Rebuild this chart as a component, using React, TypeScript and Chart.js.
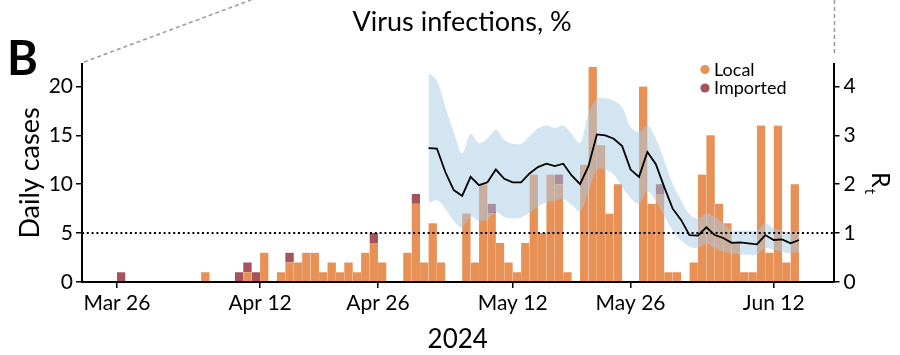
import React, { useEffect, useRef } from "react";
import { Chart, registerables } from "chart.js";

Chart.register(...registerables);

// Day 0 = Mar 26, 2024
const tickDays = [0, 17, 31, 47, 61, 78];
const tickLabels = ["Mar 26", "Apr 12", "Apr 26", "May 12", "May 26", "Jun 12"];
const leftTicks = [0, 5, 10, 15, 20];
const rightTicks = [0, 1, 2, 3, 4];

const localCases = [
  0, 0, 0, 0, 0, 0, 0, 0, 0, 0,
  1, 0, 0, 0, 0, 1, 0, 3, 0, 1,
  2, 2, 3, 3, 1, 2, 1, 2, 1, 3,
  4, 2, 0, 0, 3, 8, 2, 6, 2, 0,
  0, 7, 2, 10, 7, 4, 2, 1, 4, 11,
  5, 11, 10, 1, 0, 12, 22, 14, 7, 10,
  0, 0, 20, 8, 9, 1, 1, 0, 2, 11,
  15, 8, 6, 4, 1, 1, 16, 3, 16, 2, 10,
];
const importedCases = [
  1, 0, 0, 0, 0, 0, 0, 0, 0, 0,
  0, 0, 0, 0, 1, 1, 1, 0, 0, 0,
  1, 0, 0, 0, 0, 0, 0, 0, 0, 0,
  1, 0, 0, 0, 0, 1, 0, 0, 0, 0,
  0, 0, 0, 0, 1, 0, 0, 0, 0, 0,
  0, 0, 1, 0, 0, 0, 0, 0, 0, 0,
  0, 0, 0, 0, 1, 0, 0, 0, 0, 0,
  0, 0, 0, 0, 0, 0, 0, 0, 0, 0, 0,
];

const rtStartDay = 37;
const rtMean = [
  2.74, 2.73, 2.25, 1.88, 1.76, 2.15, 1.98, 2.04, 2.3, 2.11,
  2.04, 2.04, 2.22, 2.35, 2.42, 2.37, 2.42, 2.18, 2.0, 2.37,
  3.02, 3.0, 2.93, 2.78, 2.3, 2.15, 2.66, 2.41, 1.94, 1.5,
  1.27, 0.96, 0.95, 1.12, 0.96, 0.9, 0.8, 0.81, 0.79, 0.77,
  0.96, 0.86, 0.87, 0.79, 0.86,
];
const rtHigh = [
  4.27, 4.12, 3.58, 3.07, 2.63, 3.03, 2.84, 2.93, 3.12, 2.91,
  2.83, 2.83, 2.98, 3.14, 3.2, 3.15, 3.2, 3.03, 2.85, 3.45,
  3.75, 3.76, 3.71, 3.58, 3.17, 3.07, 3.2, 2.93, 2.49, 2.01,
  1.67, 1.38, 1.3, 1.4, 1.33, 1.2, 1.06, 1.05, 1.05, 1.06,
  1.2, 1.1, 1.06, 1.0, 1.06,
];
const rtLow = [
  1.62, 1.67, 1.5, 1.25, 1.12, 1.33, 1.25, 1.28, 1.43, 1.33,
  1.3, 1.32, 1.42, 1.54, 1.62, 1.66, 1.7, 1.58, 1.45, 1.85,
  2.3, 2.3, 2.2, 1.95, 1.72, 1.6, 1.85, 1.65, 1.35, 1.05,
  0.85, 0.72, 0.7, 0.79, 0.69, 0.62, 0.59, 0.56, 0.56, 0.56,
  0.69, 0.66, 0.62, 0.59, 0.62,
];

const X_MIN = -4.15;
const X_MAX = 85.1;
const Y_MAX = 22.3;
const Y1_MAX = Y_MAX / 5;

const LOCAL_COLOR = "#E79157";
const IMPORTED_COLOR = "#A5535C";
const BAND_COLOR = "rgba(170,203,230,0.5)";
const FONT = "Lato";

const decorPlugin = {
  id: "decor",
  afterDraw(chart: any) {
    const ctx = chart.ctx;
    const area = chart.chartArea;
    ctx.save();
    // dashed guide lines
    ctx.strokeStyle = "#9a9a9a";
    ctx.lineWidth = 1.5;
    ctx.setLineDash([4, 3]);
    ctx.beginPath();
    ctx.moveTo(area.left + 2, area.top - 2);
    ctx.lineTo(251, 0);
    ctx.stroke();
    ctx.beginPath();
    ctx.moveTo(area.right + 1, 0);
    ctx.lineTo(area.right + 1, area.top - 8);
    ctx.stroke();
    ctx.setLineDash([]);

    // title
    ctx.fillStyle = "#000";
    ctx.textAlign = "center";
    ctx.textBaseline = "middle";
    ctx.font = `27px ${FONT}`;
    ctx.fillText("Virus infections, %", 462, 22);

    // panel letter
    ctx.textAlign = "left";
    ctx.textBaseline = "alphabetic";
    ctx.font = `bold 47px ${FONT}`;
    ctx.fillText("B", 7, 75);

    // legend
    const items = [
      { label: "Local", color: LOCAL_COLOR, y: 69.5 },
      { label: "Imported", color: IMPORTED_COLOR, y: 88 },
    ];
    ctx.font = `18px ${FONT}`;
    ctx.textBaseline = "middle";
    for (const it of items) {
      ctx.fillStyle = it.color;
      ctx.beginPath();
      ctx.arc(705, it.y, 4.6, 0, Math.PI * 2);
      ctx.fill();
      ctx.fillStyle = "#000";
      ctx.fillText(it.label, 714, it.y + 0.5);
    }

    // right axis title R_t (rotated)
    ctx.translate(872, 172);
    ctx.rotate(Math.PI / 2);
    ctx.textBaseline = "alphabetic";
    ctx.font = `25px ${FONT}`;
    ctx.fillText("R", 0, 0);
    const w = ctx.measureText("R").width;
    ctx.font = `15px ${FONT}`;
    ctx.fillText("t", w + 1, 7);
    ctx.restore();
  },
};

export default function App() {
  const ref = useRef<HTMLCanvasElement | null>(null);

  useEffect(() => {
    if (!ref.current) return;
    Chart.defaults.font.family = FONT;
    Chart.defaults.color = "#000";

    const days = localCases.map((_, i) => i);
    const localData = days
      .filter((d) => localCases[d] > 0)
      .map((d) => ({ x: d + 0.5, y: localCases[d] }));
    const importedData = days
      .filter((d) => importedCases[d] > 0)
      .map((d) => ({ x: d + 0.5, y: importedCases[d] }));
    const rtDays = rtMean.map((_, i) => rtStartDay + i);
    const meanData = rtDays.map((d, i) => ({ x: d, y: rtMean[i] }));
    const lowData = rtDays.map((d, i) => ({ x: d, y: rtLow[i] }));
    const highData = rtDays.map((d, i) => ({ x: d, y: rtHigh[i] }));

    const barBorder = { left: 0.35, right: 0.35, top: 0, bottom: 0 };
    const barBorderColor = "rgba(255,255,255,0.45)";

    const chart = new Chart(ref.current, {
      type: "bar",
      data: {
        datasets: [
          {
            type: "bar",
            label: "Local",
            data: localData,
            backgroundColor: LOCAL_COLOR,
            borderColor: barBorderColor,
            borderWidth: barBorder,
            borderSkipped: false,
            barPercentage: 1,
            categoryPercentage: 1,
            yAxisID: "y",
            order: 5,
          },
          {
            type: "bar",
            label: "Imported",
            data: importedData,
            backgroundColor: IMPORTED_COLOR,
            borderColor: barBorderColor,
            borderWidth: barBorder,
            borderSkipped: false,
            barPercentage: 1,
            categoryPercentage: 1,
            yAxisID: "y",
            order: 5,
          },
          {
            type: "line",
            label: "low",
            data: lowData,
            borderColor: "transparent",
            borderWidth: 0,
            pointRadius: 0,
            fill: false,
            tension: 0.35,
            yAxisID: "y1",
            order: 2,
          },
          {
            type: "line",
            label: "high",
            data: highData,
            borderColor: "transparent",
            borderWidth: 0,
            pointRadius: 0,
            backgroundColor: BAND_COLOR,
            fill: "-1",
            tension: 0.35,
            yAxisID: "y1",
            order: 2,
          },
          {
            type: "line",
            label: "Rt",
            data: meanData,
            borderColor: "#000",
            borderWidth: 1.8,
            pointRadius: 0,
            fill: false,
            tension: 0,
            yAxisID: "y1",
            order: 1,
          },
          {
            type: "line",
            label: "threshold",
            data: [
              { x: X_MIN, y: 1 },
              { x: X_MAX, y: 1 },
            ],
            borderColor: "#000",
            borderWidth: 2,
            borderDash: [2, 2.8],
            pointRadius: 0,
            fill: false,
            yAxisID: "y1",
            order: 0,
          },
        ],
      },
      options: {
        responsive: false,
        animation: false,
        devicePixelRatio: 1,
        layout: { padding: { top: 64, left: 0, right: 0, bottom: 0 } },
        plugins: {
          legend: { display: false },
          tooltip: { enabled: false },
          title: { display: false },
        },
        scales: {
          x: {
            type: "linear",
            min: X_MIN,
            max: X_MAX,
            offset: false,
            stacked: true,
            grid: {
              display: true,
              offset: false,
              drawOnChartArea: false,
              drawTicks: true,
              tickLength: 6,
              color: "#000",
              lineWidth: 1.5,
            },
            border: { display: true, color: "#000", width: 2 },
            afterBuildTicks: (scale: any) => {
              scale.ticks = tickDays.map((v) => ({ value: v }));
            },
            ticks: {
              autoSkip: false,
              maxRotation: 0,
              padding: 3,
              font: { size: 21, family: FONT },
              color: "#000",
              callback: (v: any) => {
                const i = tickDays.indexOf(Number(v));
                return i >= 0 ? tickLabels[i] : "";
              },
            },
            title: {
              display: true,
              text: "2024",
              font: { size: 26, family: FONT },
              color: "#000",
              padding: { top: 0, bottom: 0 },
            },
            afterFit: (scale: any) => {
              scale.height = 73;
            },
          },
          y: {
            type: "linear",
            position: "left",
            min: 0,
            max: Y_MAX,
            stacked: true,
            grid: {
              display: true,
              drawOnChartArea: false,
              drawTicks: true,
              tickLength: 6,
              color: "#000",
              lineWidth: 1.5,
            },
            border: { display: true, color: "#000", width: 2 },
            afterBuildTicks: (scale: any) => {
              scale.ticks = leftTicks.map((v) => ({ value: v }));
            },
            ticks: {
              padding: 3,
              font: { size: 21, family: FONT },
              color: "#000",
            },
            title: {
              display: true,
              text: "Daily cases",
              font: { size: 27, family: FONT },
              color: "#000",
              padding: { top: 14, bottom: 0 },
            },
            afterFit: (scale: any) => {
              scale.width = 82;
            },
          },
          y1: {
            type: "linear",
            position: "right",
            min: 0,
            max: Y1_MAX,
            grid: {
              display: true,
              drawOnChartArea: false,
              drawTicks: true,
              tickLength: 6,
              color: "#000",
              lineWidth: 1.5,
            },
            border: { display: true, color: "#000", width: 2 },
            afterBuildTicks: (scale: any) => {
              scale.ticks = rightTicks.map((v) => ({ value: v }));
            },
            ticks: {
              padding: 4,
              font: { size: 21, family: FONT },
              color: "#000",
            },
            afterFit: (scale: any) => {
              scale.width = 66.5;
            },
          },
        },
      },
      plugins: [decorPlugin],
    } as any);

    return () => chart.destroy();
  }, []);

  return (
    <div style={{ position: "fixed", left: 0, top: 0, width: 900, height: 355, background: "#fff" }}>
      <canvas ref={ref} width={900} height={355} style={{ width: 900, height: 355 }} />
    </div>
  );
}
